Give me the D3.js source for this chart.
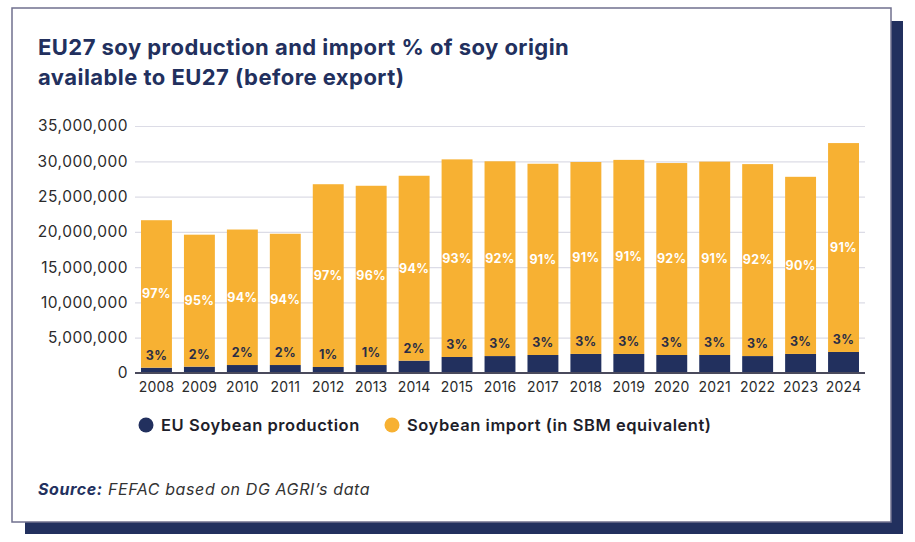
<!DOCTYPE html>
<html>
<head>
<meta charset="utf-8">
<script src="https://cdn.jsdelivr.net/npm/d3@7"></script>
<style>
  body { margin: 0; background: #fff; }
  svg { display: block; font-family: Inter, "Noto Sans", sans-serif; }
</style>
</head>
<body>
<div id="chart"></div>
<script>
// Values (tonnes)
const years = ["2008", "2009", "2010", "2011", "2012", "2013", "2014", "2015", "2016",
               "2017", "2018", "2019", "2020", "2021", "2022", "2023", "2024"];
const production = [750000, 900000, 1130000, 1130000, 850000, 1130000, 1750000, 2270000, 2400000,
                    2550000, 2700000, 2700000, 2550000, 2550000, 2400000, 2700000, 2980000];
const imports = [20900000, 18700000, 19200000, 18600000, 25900000, 25400000, 26200000, 28000000, 27600000,
                 27100000, 27200000, 27500000, 27200000, 27400000, 27200000, 25100000, 29600000];
const productionPct = ["3%", "2%", "2%", "2%", "1%", "1%", "2%", "3%", "3%",
                       "3%", "3%", "3%", "3%", "3%", "3%", "3%", "3%"];
const importPct = ["97%", "95%", "94%", "94%", "97%", "96%", "94%", "93%", "92%",
                   "91%", "91%", "91%", "92%", "91%", "92%", "90%", "91%"];
const yTicks = [0, 5000000, 10000000, 15000000, 20000000, 25000000, 30000000, 35000000];
const seriesNames = ["EU Soybean production", "Soybean import (in SBM equivalent)"];

const W = 915, H = 542;
const navy = "#22305e", yellow = "#f7b133";
const plot = {left: 135, right: 865, top: 126, bottom: 373};

const svg = d3.select("#chart").append("svg")
    .attr("width", W)
    .attr("height", H);

// card with offset shadow block
svg.append("rect")
    .attr("x", 25).attr("y", 21)
    .attr("width", 878).attr("height", 513)
    .attr("fill", navy);
svg.append("rect")
    .attr("x", 12).attr("y", 8)
    .attr("width", 879).attr("height", 514)
    .attr("fill", "#fff")
    .attr("stroke", "#70708e")
    .attr("stroke-width", 1.5);

// title
const title = svg.append("text")
    .attr("x", 38)
    .attr("fill", navy)
    .style("font-size", "22px")
    .style("letter-spacing", "0.45px")
    .style("font-weight", 700);
title.append("tspan").attr("x", 38).attr("y", 55).text("EU27 soy production and import % of soy origin");
title.append("tspan").attr("x", 38).attr("y", 85).text("available to EU27 (before export)");

// scales
const x = d3.scaleBand()
    .domain(years)
    .range([plot.left, plot.right])
    .paddingInner(0.28)
    .paddingOuter(0.14);

const y = d3.scaleLinear()
    .domain([0, 35000000])
    .range([plot.bottom, plot.top]);

// y axis with gridlines
const yAxis = svg.append("g")
    .attr("transform", `translate(${plot.left},0)`)
    .call(d3.axisLeft(y)
        .tickValues(yTicks)
        .tickFormat(d3.format(","))
        .tickSize(-(plot.right - plot.left))
        .tickPadding(7));
yAxis.select(".domain").remove();
yAxis.selectAll(".tick line").attr("stroke", "#dcdce6").attr("stroke-width", 1.2);
yAxis.selectAll(".tick text")
    .attr("fill", "#2b2b2b")
    .style("font-size", "15.5px")
    .style("letter-spacing", "0.5px")
    .style("font-family", "Inter, 'Noto Sans', sans-serif");

// stacked bars
const stackData = years.map((yr, i) => ({year: yr, production: production[i], imports: imports[i]}));
const stack = d3.stack().keys(["production", "imports"])(stackData);
const colors = {production: navy, imports: yellow};

svg.append("g")
    .selectAll("g")
    .data(stack)
    .join("g")
    .attr("fill", d => colors[d.key])
    .selectAll("rect")
    .data(d => d)
    .join("rect")
    .attr("x", d => x(d.data.year))
    .attr("y", d => y(d[1]))
    .attr("width", x.bandwidth())
    .attr("height", d => y(d[0]) - y(d[1]));

// baseline
svg.append("line")
    .attr("x1", plot.left).attr("x2", plot.right)
    .attr("y1", y(0)).attr("y2", y(0))
    .attr("stroke", "#4a4a5c")
    .attr("stroke-width", 2);

// percentage labels
const labels = svg.append("g")
    .attr("text-anchor", "middle")
    .style("font-size", "12.5px")
    .style("letter-spacing", "0.3px")
    .style("font-weight", 700);

labels.selectAll(".imp")
    .data(stack[1])
    .join("text")
    .attr("class", "imp")
    .attr("x", d => x(d.data.year) + x.bandwidth() / 2)
    .attr("y", d => (y(d[0]) + y(d[1])) / 2)
    .attr("dy", "0.35em")
    .attr("fill", "#fff")
    .text((d, i) => importPct[i]);

labels.selectAll(".prod")
    .data(stack[0])
    .join("text")
    .attr("class", "prod")
    .attr("x", d => x(d.data.year) + x.bandwidth() / 2)
    .attr("y", d => y(d[1]) - 12)
    .attr("dy", "0.35em")
    .attr("fill", "#2a2d45")
    .text((d, i) => productionPct[i]);

// x axis labels
const xAxis = svg.append("g")
    .attr("transform", `translate(0,${plot.bottom})`)
    .call(d3.axisBottom(x).tickSize(0).tickPadding(9));
xAxis.select(".domain").remove();
xAxis.selectAll(".tick text")
    .attr("fill", "#2b2b2b")
    .style("font-size", "14px")
    .style("letter-spacing", "0.2px")
    .style("font-family", "Inter, 'Noto Sans', sans-serif");

// legend
const legendX = [146, 392];
const legend = svg.append("g")
    .selectAll("g")
    .data(seriesNames)
    .join("g")
    .attr("transform", (d, i) => `translate(${legendX[i]},425)`);
legend.append("circle")
    .attr("r", 7.5)
    .attr("fill", (d, i) => i === 0 ? navy : yellow);
legend.append("text")
    .attr("x", 15)
    .attr("dy", "0.35em")
    .attr("fill", "#1e1e2a")
    .style("font-size", "16.5px")
    .style("letter-spacing", "0.55px")
    .style("font-weight", 600)
    .text(d => d);

// source
const source = svg.append("text")
    .attr("x", 38).attr("y", 495)
    .style("font-size", "16px")
    .style("letter-spacing", "0.6px")
    .style("font-style", "italic");
source.append("tspan").attr("fill", navy).style("font-weight", 700).text("Source:");
source.append("tspan").attr("fill", "#333").text(" FEFAC based on DG AGRI\u2019s data");
</script>
</body>
</html>
